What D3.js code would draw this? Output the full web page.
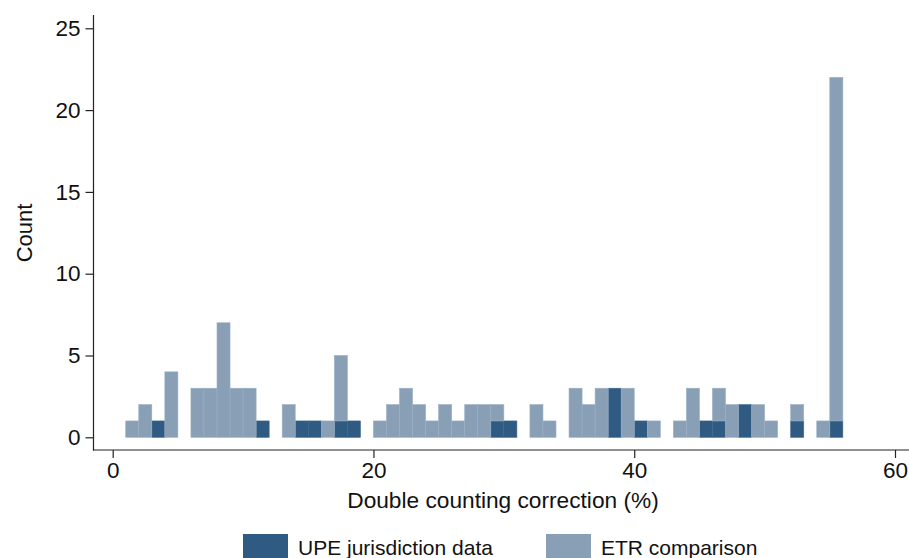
<!DOCTYPE html>
<html>
<head>
<meta charset="utf-8">
<script src="https://cdn.jsdelivr.net/npm/d3@7"></script>
<style>
  html, body { margin: 0; padding: 0; background: #fff; }
  svg text { font-family: "Liberation Sans", Arial, Helvetica, sans-serif; fill: #111; }
</style>
</head>
<body>
<svg id="chart" width="909" height="558"></svg>
<script>
// Histogram bins of width 1 (percentage points); bin i covers [binStart[i], binStart[i] + 1)
const binStart = [1,2,3,4,5,6,7,8,9,10,11,12,13,14,15,16,17,18,19,20,
                  21,22,23,24,25,26,27,28,29,30,31,32,33,34,35,36,37,38,39,40,
                  41,42,43,44,45,46,47,48,49,50,51,52,53,54,55];
const upeCounts = [0,0,1,0,0,0,0,0,0,0,1,0,0,1,1,0,1,1,0,0,
                   0,0,0,0,0,0,0,0,1,1,0,0,0,0,0,0,0,3,0,1,
                   0,0,0,0,1,1,0,2,0,0,0,1,0,0,1];
const etrCounts = [1,2,0,4,0,3,3,7,3,3,0,0,2,0,0,1,4,0,0,1,
                   2,3,2,1,2,1,2,2,1,0,0,2,1,0,3,2,3,0,3,0,
                   1,0,1,3,0,2,2,0,2,1,0,1,0,1,21];
const seriesNames = ["UPE jurisdiction data", "ETR comparison"];
const seriesColors = ["#2f5a82", "#889fb6"];
const seriesEdges = ["#3f6790", "#9aafc3"];
const xTicks = [0, 20, 40, 60];
const yTicks = [0, 5, 10, 15, 20, 25];

const rows = binStart.map((b, i) => ({ bin: b, upe: upeCounts[i], etr: etrCounts[i] }));
const stacked = d3.stack().keys(["upe", "etr"])(rows);

const svg = d3.select("#chart");
const x = d3.scaleLinear().domain([0, 60]).range([112.7, 895]);
const y = d3.scaleLinear().domain([0, 25]).range([437.3, 28.3]);

const axisY = 450;   // x-axis line sits below the zero baseline
const axisX = 93.5;  // y-axis line sits left of the first bin

// bars
stacked.forEach((layer, k) => {
  svg.append("g")
    .selectAll("rect")
    .data(layer.filter(d => d[1] > d[0]))
    .join("rect")
    .attr("x", d => x(d.data.bin))
    .attr("width", d => x(d.data.bin + 1) - x(d.data.bin))
    .attr("y", d => y(d[1]))
    .attr("height", d => y(d[0]) - y(d[1]))
    .attr("fill", seriesColors[k])
    .attr("stroke", seriesEdges[k])
    .attr("stroke-width", 0.6);
});

// y axis
const gy = svg.append("g").attr("transform", `translate(${axisX},0)`)
  .call(d3.axisLeft(y).tickValues(yTicks).tickSize(8).tickPadding(5).tickSizeOuter(0));
gy.select(".domain").remove();
gy.append("line").attr("x1", 0).attr("x2", 0).attr("y1", 15).attr("y2", axisY + 0.5)
  .attr("stroke", "#222").attr("stroke-width", 1.2);
gy.selectAll(".tick line").attr("stroke", "#222").attr("stroke-width", 1.2);
gy.selectAll(".tick text").attr("font-size", 22.5).attr("fill", "#111")
  .attr("font-family", "Liberation Sans, Arial, sans-serif");

// x axis
const gx = svg.append("g").attr("transform", `translate(0,${axisY})`)
  .call(d3.axisBottom(x).tickValues(xTicks).tickSize(8).tickPadding(4).tickSizeOuter(0));
gx.select(".domain").remove();
gx.append("line").attr("x1", axisX - 0.6).attr("x2", 909).attr("y1", 0).attr("y2", 0)
  .attr("stroke", "#222").attr("stroke-width", 1.2);
gx.selectAll(".tick line").attr("stroke", "#222").attr("stroke-width", 1.2);
gx.selectAll(".tick text").attr("font-size", 22.5).attr("fill", "#111")
  .attr("font-family", "Liberation Sans, Arial, sans-serif");

// axis titles
svg.append("text")
  .attr("x", 503).attr("y", 508)
  .attr("text-anchor", "middle").attr("font-size", 22.7)
  .text("Double counting correction (%)");
svg.append("text")
  .attr("transform", "translate(32,233) rotate(-90)")
  .attr("text-anchor", "middle").attr("font-size", 22)
  .text("Count");

// legend
const legendX = [243, 546];
const lg = svg.append("g");
seriesNames.forEach((name, k) => {
  lg.append("rect").attr("x", legendX[k]).attr("y", 534).attr("width", 45).attr("height", 26)
    .attr("fill", seriesColors[k]);
  lg.append("text").attr("x", legendX[k] + 55).attr("y", 555)
    .attr("font-size", 21).text(name);
});
</script>
</body>
</html>
